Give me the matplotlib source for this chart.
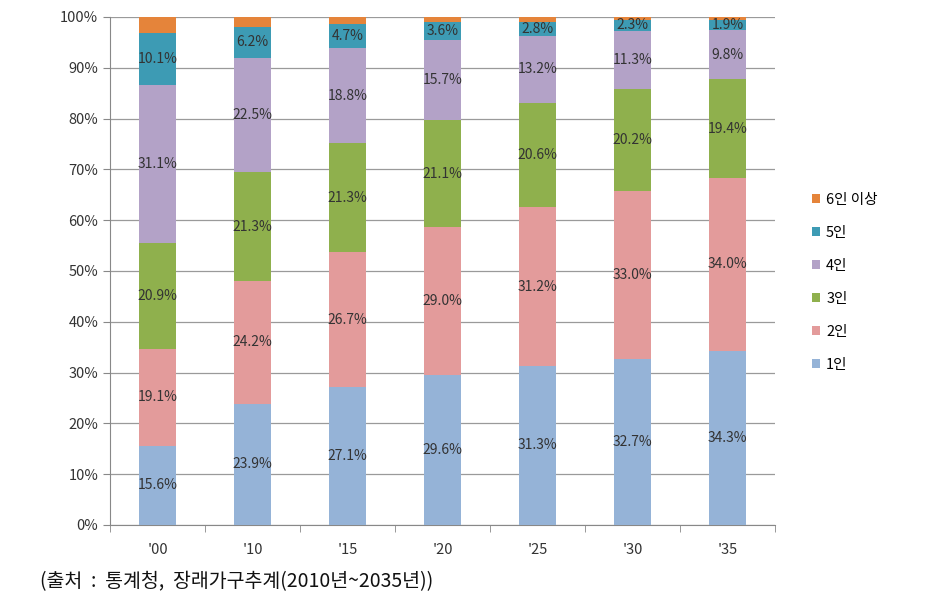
import matplotlib
matplotlib.use('Agg')
import matplotlib.pyplot as plt
import numpy as np

plt.rcParams['font.family'] = ['Noto Sans CJK KR', 'DejaVu Sans']

years = ["'00", "'10", "'15", "'20", "'25", "'30", "'35"]
one = [15.6, 23.9, 27.1, 29.6, 31.3, 32.7, 34.3]
two = [19.1, 24.2, 26.7, 29.0, 31.2, 33.0, 34.0]
three = [20.9, 21.3, 21.3, 21.1, 20.6, 20.2, 19.4]
four = [31.1, 22.5, 18.8, 15.7, 13.2, 11.3, 9.8]
five = [10.1, 6.2, 4.7, 3.6, 2.8, 2.3, 1.9]
six = [3.2, 1.9, 1.4, 1.0, 0.9, 0.5, 0.6]

names = ['1인', '2인', '3인', '4인', '5인', '6인 이상']
colors = ['#95b3d7', '#e39b9b', '#8fb04d', '#b3a2c7', '#3d9bb4', '#e5843a']
series = [one, two, three, four, five, six]

fig = plt.figure(figsize=(9.29, 6.0), dpi=100)
ax = fig.add_axes([0.1184, 0.125, 0.716, 0.8467])

x = np.arange(len(years))
bottom = np.zeros(len(years))
handles = []
for i, (vals, name, col) in enumerate(zip(series, names, colors)):
    vals = np.array(vals)
    b = ax.bar(x, vals, 0.39, bottom=bottom, color=col, label=name, zorder=3)
    handles.append(b)
    # 6인 이상 has no labels in the original
    if i < 5:
        for xi, v, bt in zip(x, vals, bottom):
            ax.text(xi, bt + v / 2, f'{v:.1f}%', ha='center', va='center',
                    fontsize=10, color='#333333', zorder=4)
    bottom += vals

ax.set_xlim(-0.5, len(years) - 0.5)
ax.set_ylim(0, 100)
ax.set_yticks(np.arange(0, 101, 10))
ax.set_yticklabels([f'{v}%' for v in range(0, 101, 10)], fontsize=10.5, color='#333333')
ax.set_xticks(x)
ax.set_xticklabels(years, fontsize=10.5, color='#333333')
ax.set_xticks(np.arange(-0.5, len(years), 1), minor=True)
ax.tick_params(axis='x', which='major', length=0, pad=13)
ax.tick_params(axis='x', which='minor', length=5, color='#888888')
ax.tick_params(axis='y', length=5, color='#888888')
ax.yaxis.grid(True, color='#9a9a9a', lw=0.9, zorder=0)
for s in ['top', 'right']:
    ax.spines[s].set_visible(False)
for s in ['left', 'bottom']:
    ax.spines[s].set_color('#888888')

ax.legend(handles[::-1], names[::-1], loc='center left', bbox_to_anchor=(1.035, 0.478),
          frameon=False, fontsize=10.5, handlelength=0.6, handleheight=0.6,
          labelspacing=1.3, handletextpad=0.4)

fig.text(0.043, 0.022, '(출처  :  통계청,  장래가구추계(2010년~2035년))', fontsize=14, color='#111111')

fig.savefig('out.png', dpi=100)
